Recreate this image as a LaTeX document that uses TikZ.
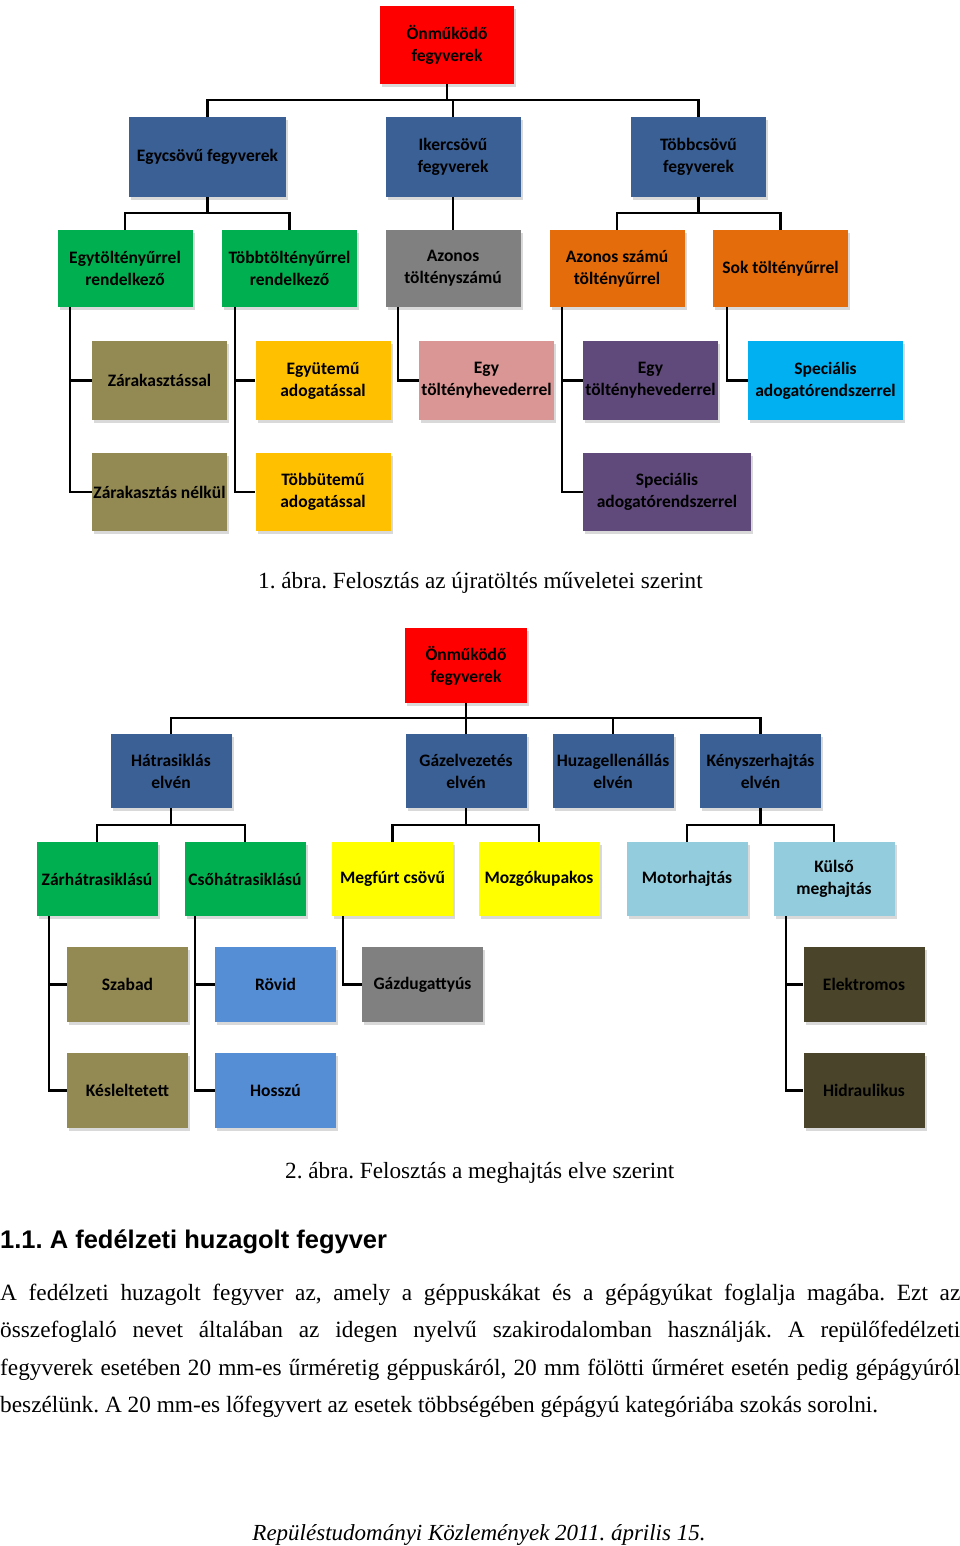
\documentclass[tikz,border=0pt]{standalone}
\usepackage{fontspec}
\setmainfont{Liberation Serif}
\newfontfamily\calfont{Carlito}
\newfontfamily\arialfont{Liberation Sans}
\usetikzlibrary{shadows}
\frenchspacing

\definecolor{rootred}{HTML}{FF0000}
\definecolor{darkblue}{HTML}{3A6096}
\definecolor{okgreen}{HTML}{00B050}
\definecolor{midgray}{HTML}{808080}
\definecolor{burnt}{HTML}{E46C0A}
\definecolor{olive}{HTML}{938953}
\definecolor{gold}{HTML}{FFC000}
\definecolor{rose}{HTML}{D99694}
\definecolor{plum}{HTML}{604A7B}
\definecolor{skyblue}{HTML}{00B0F0}
\definecolor{lemon}{HTML}{FFFF00}
\definecolor{paleblue}{HTML}{93CDDD}
\definecolor{steel}{HTML}{558ED5}
\definecolor{darkolive}{HTML}{4A452A}

\tikzset{
  cbox/.style={rectangle, inner sep=1pt, align=center,
    font=\calfont\bfseries\fontsize{17.5}{22}\selectfont,
    drop shadow={shadow xshift=2pt, shadow yshift=-3pt, opacity=0.3}},
  bigbox/.style={cbox, minimum width=135pt, minimum height=79pt},
  smallbox/.style={cbox, minimum width=121pt, minimum height=75pt},
  conn/.style={line width=2.2pt},
  caption/.style={anchor=base west, inner sep=0pt, font=\fontsize{23.2}{27}\selectfont},
}

\begin{document}
\begin{tikzpicture}[x=1pt, y=-1pt]
\useasboundingbox (0,0) rectangle (960,1546);

% 1. abra
\node[bigbox, fill=rootred, minimum width=134pt, minimum height=78pt] (root1) at (447,45) {Önműködő\\fegyverek};

\node[bigbox, fill=darkblue, minimum width=157pt, minimum height=80pt] (egycso) at (207.5,157) {Egycsövű fegyverek};
\node[bigbox, fill=darkblue, minimum height=80pt] (iker) at (453,157) {Ikercsövű\\fegyverek};
\node[bigbox, fill=darkblue, minimum height=80pt] (tobbcso) at (698.5,157) {Többcsövű\\fegyverek};

\node[bigbox, fill=okgreen, minimum height=77pt] (egytolt) at (125,268.5) {Egytöltényűrrel\\rendelkező};
\node[bigbox, fill=okgreen, minimum height=77pt] (tobbtolt) at (289.5,268.5) {Többtöltényűrrel\\rendelkező};
\node[bigbox, fill=midgray, minimum height=77pt] (azonosts) at (453,268.5) {Azonos\\töltényszámú};
\node[bigbox, fill=burnt, minimum height=77pt] (azonossz) at (617,268.5) {Azonos számú\\töltényűrrel};
\node[bigbox, fill=burnt, minimum height=77pt] (sokt) at (780.5,268.5) {Sok töltényűrrel};

\node[bigbox, fill=olive] (zarak) at (159.5,380.5) {Zárakasztással};
\node[bigbox, fill=olive, minimum height=78pt] (zarnel) at (159.5,492) {Zárakasztás nélkül};
\node[bigbox, fill=gold] (egyut) at (323,380.5) {Együtemű\\adogatással};
\node[bigbox, fill=gold, minimum height=78pt] (tobbut) at (323,492) {Többütemű\\adogatással};
\node[bigbox, fill=rose] (hevrose) at (486.5,380.5) {Egy\\töltényhevederrel};
\node[bigbox, fill=plum] (hevplum) at (650.5,380.5) {Egy\\töltényhevederrel};
\node[bigbox, fill=plum, minimum width=168pt, minimum height=78pt] (specplum) at (667,492) {Speciális\\adogatórendszerrel};
\node[bigbox, fill=skyblue, minimum width=155pt] (specsky) at (825.5,380.5) {Speciális\\adogatórendszerrel};

\draw[conn] (root1.south) -- ++(0,16) -| (egycso.north);
\draw[conn] (root1.south) -- ++(0,16) -| (iker.north);
\draw[conn] (root1.south) -- ++(0,16) -| (tobbcso.north);
\draw[conn] (egycso.south) -- ++(0,16) -| (egytolt.north);
\draw[conn] (egycso.south) -- ++(0,16) -| (tobbtolt.north);
\draw[conn] (iker.south) -- (azonosts.north);
\draw[conn] (tobbcso.south) -- ++(0,16) -| (azonossz.north);
\draw[conn] (tobbcso.south) -- ++(0,16) -| (sokt.north);
\draw[conn] ([xshift=13pt]egytolt.south west) |- (zarak.west);
\draw[conn] ([xshift=13pt]egytolt.south west) |- (zarnel.west);
\draw[conn] ([xshift=13pt]tobbtolt.south west) |- (egyut.west);
\draw[conn] ([xshift=13pt]tobbtolt.south west) |- (tobbut.west);
\draw[conn] ([xshift=13pt]azonosts.south west) |- (hevrose.west);
\draw[conn] ([xshift=13pt]azonossz.south west) |- (hevplum.west);
\draw[conn] ([xshift=13pt]azonossz.south west) |- (specplum.west);
\draw[conn] ([xshift=14pt]sokt.south west) |- (specsky.west);

\node[caption] (cap1) at (258,588) {1. ábra. Felosztás az újratöltés műveletei szerint};

% 2. abra
\node[smallbox, fill=rootred, minimum width=122pt] (root2) at (466,665.5) {Önműködő\\fegyverek};

\node[smallbox, fill=darkblue, minimum height=74pt] (hatra) at (171,771) {Hátrasiklás\\elvén};
\node[smallbox, fill=darkblue, minimum height=74pt] (gazelv) at (466,771) {Gázelvezetés\\elvén};
\node[smallbox, fill=darkblue, minimum height=74pt] (huzag) at (613,771) {Huzagellenállás\\elvén};
\node[smallbox, fill=darkblue, minimum height=74pt] (kenysz) at (760.5,771) {Kényszerhajtás\\elvén};

\node[smallbox, fill=okgreen, minimum height=74pt] (zarh) at (97,879) {Zárhátrasiklású};
\node[smallbox, fill=okgreen, minimum height=74pt] (csoh) at (245,879) {Csőhátrasiklású};
\node[smallbox, fill=lemon, minimum height=74pt] (megfurt) at (392.5,879) {Megfúrt csövű};
\node[smallbox, fill=lemon, minimum height=74pt] (mozgo) at (539,879) {Mozgókupakos};
\node[smallbox, fill=paleblue, minimum height=74pt] (motor) at (687,879) {Motorhajtás};
\node[smallbox, fill=paleblue, minimum height=74pt] (kulso) at (834,879) {Külső\\meghajtás};

\node[smallbox, fill=olive] (szabad) at (127.5,984.5) {Szabad};
\node[smallbox, fill=olive] (kesl) at (127.5,1090.5) {Késleltetett};
\node[smallbox, fill=steel] (rovid) at (275.5,984.5) {Rövid};
\node[smallbox, fill=steel] (hosszu) at (275.5,1090.5) {Hosszú};
\node[smallbox, fill=midgray] (gazdug) at (422.5,984.5) {Gázdugattyús};
\node[smallbox, fill=darkolive] (elektr) at (864,984.5) {Elektromos};
\node[smallbox, fill=darkolive] (hidr) at (864,1090.5) {Hidraulikus};

\draw[conn] (root2.south) -- ++(0,15) -| (hatra.north);
\draw[conn] (root2.south) -- (gazelv.north);
\draw[conn] (root2.south) -- ++(0,15) -| (huzag.north);
\draw[conn] (root2.south) -- ++(0,15) -| (kenysz.north);
\draw[conn] (hatra.south) -- ++(0,17) -| (zarh.north);
\draw[conn] (hatra.south) -- ++(0,17) -| (csoh.north);
\draw[conn] (gazelv.south) -- ++(0,17) -| (megfurt.north);
\draw[conn] (gazelv.south) -- ++(0,17) -| (mozgo.north);
\draw[conn] (kenysz.south) -- ++(0,17) -| (motor.north);
\draw[conn] (kenysz.south) -- ++(0,17) -| (kulso.north);
\draw[conn] ([xshift=13pt]zarh.south west) |- (szabad.west);
\draw[conn] ([xshift=13pt]zarh.south west) |- (kesl.west);
\draw[conn] ([xshift=11pt]csoh.south west) |- (rovid.west);
\draw[conn] ([xshift=11pt]csoh.south west) |- (hosszu.west);
\draw[conn] ([xshift=11pt]megfurt.south west) |- (gazdug.west);
\draw[conn] ([xshift=13pt]kulso.south west) |- (elektr.west);
\draw[conn] ([xshift=13pt]kulso.south west) |- (hidr.west);

\node[caption] (cap2) at (285,1178) {2. ábra. Felosztás a meghajtás elve szerint};

% szoveg
\node[anchor=base west, inner sep=0pt, font=\arialfont\bfseries\fontsize{25.5}{29}\selectfont] (head) at (0,1248) {1.1. A fedélzeti huzagolt fegyver};

\begin{scope}[every node/.style={anchor=base west, inner sep=0pt, font=\fontsize{23.3}{27}\selectfont}]
\node (par1) at (0,1300) {\makebox[960pt][s]{A fedélzeti huzagolt fegyver az, amely a géppuskákat és a gépágyúkat foglalja magába. Ezt az}};
\node (par2) at (0,1337) {\makebox[960pt][s]{összefoglaló nevet általában az idegen nyelvű szakirodalomban használják. A repülőfedélzeti}};
\node (par3) at (0,1375) {\makebox[960pt][s]{fegyverek esetében 20 mm-es űrméretig géppuskáról, 20 mm fölötti űrméret esetén pedig gépágyúról}};
\node (par4) at (0,1412) {beszélünk. A 20 mm-es lőfegyvert az esetek többségében gépágyú kategóriába szokás sorolni.};
\end{scope}

\node[anchor=base, inner sep=0pt, font=\itshape\fontsize{23}{27}\selectfont] (foot) at (479,1540) {Repüléstudományi Közlemények 2011. április 15.};
\end{tikzpicture}
\end{document}
